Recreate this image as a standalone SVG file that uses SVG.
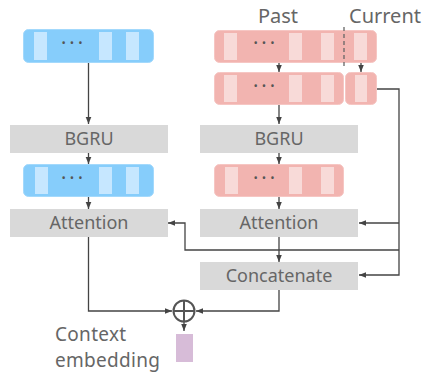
<svg xmlns="http://www.w3.org/2000/svg" width="422" height="372" viewBox="0 0 422 372">
<defs>
<marker id="ah" viewBox="0 0 8 8" refX="8" refY="4" markerWidth="7" markerHeight="7" markerUnits="userSpaceOnUse" orient="auto">
<path d="M0,0.8 L8,4 L0,7.2 Z" fill="#444"/>
</marker>
<style>
.blue{fill:#86cdfb;stroke:#a3d9fc;stroke-width:1}
.bbar{fill:#c6e7ff}
.pink{fill:#f2b4b0;stroke:#f6c6c3;stroke-width:1}
.pbar{fill:#f8dad8}
.gbox{fill:#d9d9d9}
.lbl{font-family:"Noto Sans",sans-serif;font-size:18px;fill:#666;text-anchor:middle}
.big{font-family:"Noto Sans",sans-serif;font-size:20px;fill:#666}
.ctx{font-family:"Noto Sans",sans-serif;font-size:19px;fill:#666;letter-spacing:0.3px}
.dots{font-family:"Noto Sans",sans-serif;font-size:20px;fill:#555;text-anchor:middle;letter-spacing:3px}
.ln{fill:none;stroke:#444;stroke-width:1.3}
</style>
</defs>
<rect width="422" height="372" fill="#fff"/>
<g id="labels">
<text class="big" x="278" y="23" text-anchor="middle">Past</text>
<text class="big" x="385" y="23" text-anchor="middle">Current</text>
</g>
<g id="blue1">
<rect class="blue" x="23.5" y="29.5" width="130" height="33" rx="5"/>
<rect class="bbar" x="34" y="32" width="13" height="28"/>
<rect class="bbar" x="99" y="32" width="13" height="28"/>
<rect class="bbar" x="126" y="32" width="13" height="28"/>
<text class="dots" x="73.5" y="50">···</text>
</g>
<g id="pink1">
<rect class="pink" x="214.5" y="30.5" width="162" height="32" rx="5"/>
<rect class="pbar" x="224" y="33" width="13" height="27"/>
<rect class="pbar" x="289" y="33" width="13" height="27"/>
<rect class="pbar" x="321" y="33" width="13" height="27"/>
<rect class="pbar" x="354" y="33" width="13" height="27"/>
<text class="dots" x="265.5" y="50">···</text>
<line x1="344" y1="27" x2="344" y2="69" stroke="#666" stroke-width="1.3" stroke-dasharray="4,3"/>
</g>
<g id="pink2">
<rect class="pink" x="214.5" y="72.5" width="129" height="32" rx="5"/>
<rect class="pbar" x="224" y="75" width="13" height="27"/>
<rect class="pbar" x="289" y="75" width="13" height="27"/>
<rect class="pbar" x="321" y="75" width="13" height="27"/>
<text class="dots" x="265.5" y="93">···</text>
</g>
<g id="pink2c">
<rect class="pink" x="345.5" y="72.5" width="31" height="32" rx="5"/>
<rect class="pbar" x="355" y="75" width="12" height="27"/>
</g>
<g id="bgru1">
<rect class="gbox" x="10" y="125" width="158" height="28"/>
<text class="lbl" x="89" y="145">BGRU</text>
</g>
<g id="bgru2">
<rect class="gbox" x="200" y="125" width="158" height="28"/>
<text class="lbl" x="279" y="145">BGRU</text>
</g>
<g id="blue2">
<rect class="blue" x="23.5" y="164.5" width="130" height="32" rx="5"/>
<rect class="bbar" x="35" y="167" width="13" height="27"/>
<rect class="bbar" x="99" y="167" width="13" height="27"/>
<rect class="bbar" x="126" y="167" width="13" height="27"/>
<text class="dots" x="73.5" y="185">···</text>
</g>
<g id="pink3">
<rect class="pink" x="214.5" y="164.5" width="129" height="32" rx="5"/>
<rect class="pbar" x="225" y="167" width="13" height="27"/>
<rect class="pbar" x="289" y="167" width="13" height="27"/>
<rect class="pbar" x="321" y="167" width="13" height="27"/>
<text class="dots" x="265.5" y="185">···</text>
</g>
<g id="att1">
<rect class="gbox" x="10" y="209" width="158" height="28"/>
<text class="lbl" x="89" y="229">Attention</text>
</g>
<g id="att2">
<rect class="gbox" x="200" y="209" width="158" height="28"/>
<text class="lbl" x="279" y="229">Attention</text>
</g>
<g id="concat">
<rect class="gbox" x="200" y="262" width="158" height="28"/>
<text class="lbl" x="279" y="282">Concatenate</text>
</g>
<g id="sum">
<circle cx="184" cy="311" r="10.5" fill="none" stroke="#555" stroke-width="2"/>
<line x1="173.5" y1="311" x2="194.5" y2="311" stroke="#555" stroke-width="2"/>
<line x1="184" y1="300.5" x2="184" y2="321.5" stroke="#555" stroke-width="2"/>
</g>
<g id="context">
<rect x="176" y="334" width="17" height="28" fill="#d7bcd8"/>
<text class="ctx" x="55" y="341">Context</text>
<text class="ctx" x="55" y="367">embedding</text>
</g>
<g id="connectors">
<line class="ln" x1="88.5" y1="63" x2="88.5" y2="124" marker-end="url(#ah)"/>
<line class="ln" x1="88.5" y1="153" x2="88.5" y2="164" marker-end="url(#ah)"/>
<line class="ln" x1="88.5" y1="197" x2="88.5" y2="209" marker-end="url(#ah)"/>
<line class="ln" x1="279" y1="63" x2="279" y2="72" marker-end="url(#ah)"/>
<line class="ln" x1="361" y1="63" x2="361" y2="72" marker-end="url(#ah)"/>
<line class="ln" x1="279" y1="105" x2="279" y2="124" marker-end="url(#ah)"/>
<line class="ln" x1="279" y1="153" x2="279" y2="164" marker-end="url(#ah)"/>
<line class="ln" x1="279" y1="197" x2="279" y2="209" marker-end="url(#ah)"/>
<line class="ln" x1="279" y1="237" x2="279" y2="262" marker-end="url(#ah)"/>
<polyline class="ln" points="377,89 399,89 399,275 359,275" marker-end="url(#ah)"/>
<line class="ln" x1="399" y1="223" x2="359" y2="223" marker-end="url(#ah)"/>
<polyline class="ln" points="399,250 185,250 185,223 168,223" marker-end="url(#ah)"/>
<polyline class="ln" points="88.5,237 88.5,311 172,311" marker-end="url(#ah)"/>
<polyline class="ln" points="279,290 279,311 196,311" marker-end="url(#ah)"/>
<line class="ln" x1="184" y1="322" x2="184" y2="331" marker-end="url(#ah)"/>
</g>
</svg>
